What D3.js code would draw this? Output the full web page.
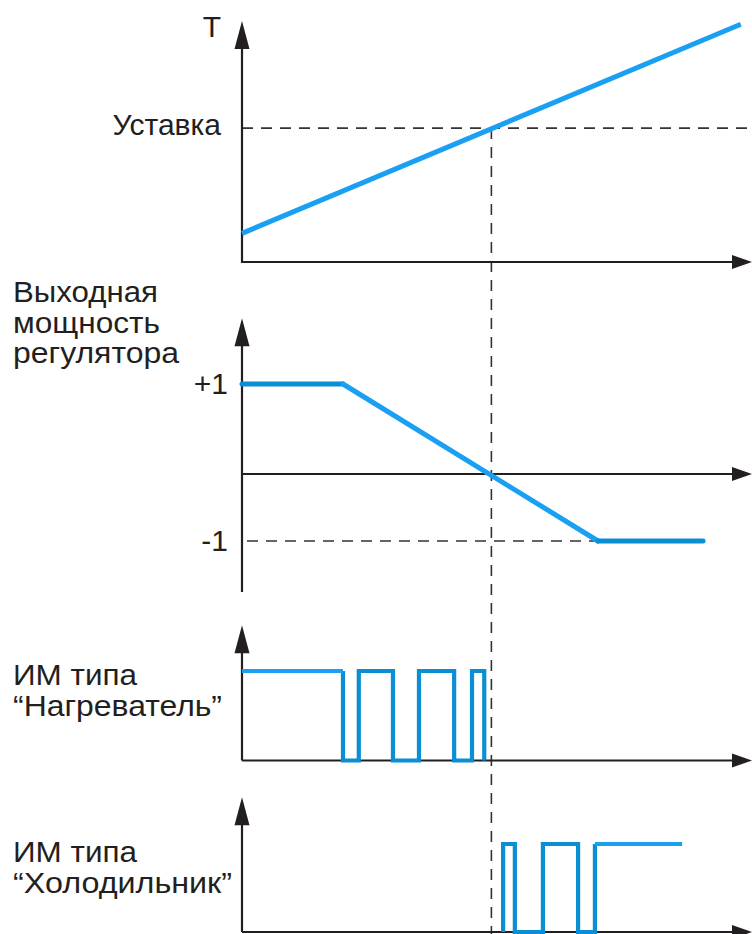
<!DOCTYPE html>
<html><head><meta charset="utf-8">
<script src="https://cdn.jsdelivr.net/npm/d3@7"></script>
<style>html,body{margin:0;padding:0;background:#fff;}svg{display:block;}</style>
</head><body>
<script>
// ---- data ----
const timeDomain = [0, 100];
// Panel 1: temperature
const tempTimes = [0, 97.8];
const tempValues = [10.7, 88.8];
const tempDomain = [0, 90];
const setpoint = 50;
const crossTime = 48.9;
// Panel 2: controller output
const outTimes = [0, 19.8, 69.8, 90.4];
const outValues = [1, 1, -1, -1];
const outTickValues = [1, -1];
const outTickLabels = ["+1", "-1"];
const outAxisExtent = [-1.76, 1.73];
// Panel 3: heater PWM (state switches)
const heaterTimes = [0, 19.8, 22.9, 29.6, 34.7, 41.6, 45.1, 47.5];
const heaterStates = [1, 0, 1, 0, 1, 0, 1, 0];
// Panel 4: cooler PWM
const coolerTimes = [51.2, 51.2, 53.5, 59.0, 65.9, 69.2, 86.3];
const coolerStates = [0, 1, 0, 1, 0, 1, 1];
// labels
const labelT = "T";
const labelSetpoint = "Уставка";
const labelOutput = ["Выходная", "мощность", "регулятора"];
const labelHeater = ["ИМ типа", "“Нагреватель”"];
const labelCooler = ["ИМ типа", "“Холодильник”"];

// ---- layout ----
const W = 752, H = 934;
const AX = "#231f20", BLUE = "#1aa0f2", BLUE2 = "#0a8ed4";
const FONT = "'Liberation Sans', Arial, sans-serif";
const outLabelWidths = [145, 147, 166];
const heaterLabelWidths = [124, 209];
const coolerLabelWidths = [124, 219];

const svg = d3.select("body").append("svg").attr("width", W).attr("height", H);

const x = d3.scaleLinear().domain(timeDomain).range([242, 752]);
const yT = d3.scaleLinear().domain(tempDomain).range([262, 21]);
const yU = d3.scaleLinear().domain([-1, 0, 1]).range([541, 474, 384]);
const yH = d3.scaleLinear().domain([0, 1]).range([760.5, 671]);
const yC = d3.scaleLinear().domain([0, 1]).range([932, 844]);

function upArrow(xp, yTip) {
  svg.append("path").attr("d", `M${xp},${yTip} L${xp-7.5},${yTip+28} L${xp+7.5},${yTip+28} Z`).attr("fill", AX);
}
function rightArrow(xTip, yp) {
  svg.append("path").attr("d", `M${xTip},${yp} L${xTip-20},${yp-7} L${xTip-20},${yp+7} Z`).attr("fill", AX);
}
function axisLine(x1, y1, x2, y2) {
  svg.append("line").attr("x1", x1).attr("y1", y1).attr("x2", x2).attr("y2", y2)
    .attr("stroke", AX).attr("stroke-width", 2.2);
}
function dashed(x1, y1, x2, y2) {
  svg.append("line").attr("x1", x1).attr("y1", y1).attr("x2", x2).attr("y2", y2)
    .attr("stroke", "#333").attr("stroke-width", 1.6).attr("stroke-dasharray", "11,8");
}
function text(str, xp, yp, size, anchor, len) {
  const t = svg.append("text").attr("x", xp).attr("y", yp).attr("font-family", FONT)
    .attr("font-size", size).attr("fill", AX).attr("text-anchor", anchor || "start").text(str);
  if (len) t.attr("textLength", len).attr("lengthAdjust", "spacingAndGlyphs");
  return t;
}

// ---- Panel 1 ----
dashed(x(0), yT(setpoint), x(100), yT(setpoint));
dashed(x(crossTime), yT(setpoint), x(crossTime), H);
axisLine(x(0), yT(tempDomain[1]) + 10, x(0), yT(0) + 1);
axisLine(x(0) - 1, yT(0), x(100) - 10, yT(0));
upArrow(x(0), yT(tempDomain[1]));
rightArrow(x(100), yT(0));
const tempPts = tempTimes.map((t, i) => [x(t), yT(tempValues[i])]);
svg.append("path").attr("d", d3.line()(tempPts)).attr("fill", "none").attr("stroke", BLUE).attr("stroke-width", 5);
text(labelT, 221, 37, 30, "end");
text(labelSetpoint, 221, 135, 30, "end");

// ---- Panel 2 ----
dashed(x(0) + 5, yU(-1), x(outTimes[2]), yU(-1));
axisLine(x(0), yU(outAxisExtent[1]) + 10, x(0), yU(outAxisExtent[0]));
axisLine(x(0), yU(0), x(100) - 10, yU(0));
upArrow(x(0), yU(outAxisExtent[1]));
rightArrow(x(100), yU(0));
const outPts = outTimes.map((t, i) => [x(t), yU(outValues[i])]);
for (let i = 0; i < outPts.length - 1; i++) {
  const flat = outValues[i] === outValues[i + 1];
  svg.append("path").attr("d", d3.line()([outPts[i], outPts[i + 1]]))
    .attr("fill", "none").attr("stroke", flat ? BLUE2 : BLUE).attr("stroke-width", 5)
    .attr("stroke-linecap", "round");
}
outTickValues.forEach((v, i) => text(outTickLabels[i], 228, yU(v) + 10, 30, "end"));
labelOutput.forEach((s, i) => text(s, 13, 302 + i * 30.5, 30, "start", outLabelWidths[i]));

// ---- Panel 3 ----
axisLine(x(0), yH(1.51) + 10, x(0), yH(0));
axisLine(x(0), yH(0), x(100) - 10, yH(0));
upArrow(x(0), yH(1.51));
rightArrow(x(100), yH(0));
const heaterPts = heaterTimes.map((t, i) => [x(t), yH(heaterStates[i])]);
const heaterPulsePts = [[heaterPts[1][0], heaterPts[0][1]]].concat(heaterPts.slice(1));
svg.append("path").attr("d", d3.line().curve(d3.curveStepAfter)(heaterPulsePts))
  .attr("fill", "none").attr("stroke", BLUE2).attr("stroke-width", 4.2).attr("stroke-linejoin", "miter");
svg.append("path").attr("d", d3.line()([heaterPts[0], [heaterPts[1][0], heaterPts[0][1]]]))
  .attr("fill", "none").attr("stroke", BLUE).attr("stroke-width", 4.2);
labelHeater.forEach((s, i) => text(s, 13, 685 + i * 31, 30, "start", heaterLabelWidths[i]));

// ---- Panel 4 ----
axisLine(x(0), yC(1.53) + 10, x(0), yC(0));
axisLine(x(0), yC(0), x(100) - 10, yC(0));
upArrow(x(0), yC(1.53));
rightArrow(x(100), yC(0));
const coolerPts = coolerTimes.map((t, i) => [x(t), yC(coolerStates[i])]);
svg.append("path").attr("d", d3.line().curve(d3.curveStepAfter)(coolerPts.slice(0, coolerPts.length - 1)))
  .attr("fill", "none").attr("stroke", BLUE2).attr("stroke-width", 4.2);
svg.append("path").attr("d", d3.line()(coolerPts.slice(coolerPts.length - 2)))
  .attr("fill", "none").attr("stroke", BLUE).attr("stroke-width", 4.2);
labelCooler.forEach((s, i) => text(s, 13, 862 + i * 31, 30, "start", coolerLabelWidths[i]));
</script>
</body></html>
